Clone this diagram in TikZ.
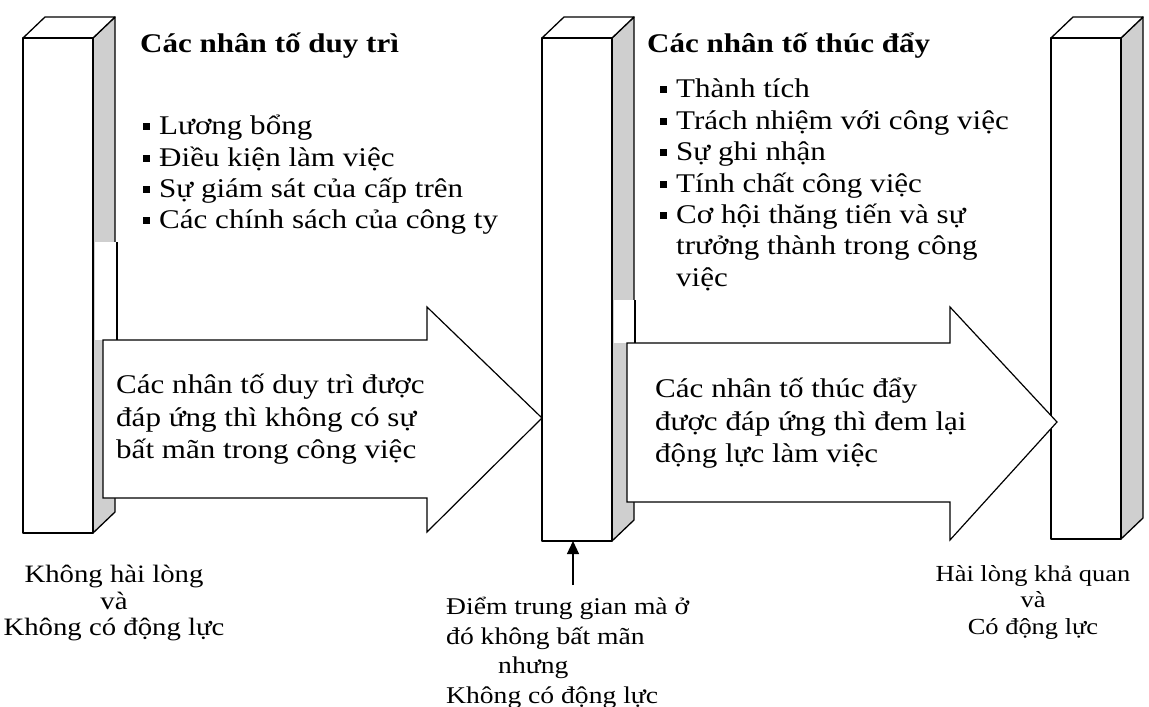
\documentclass[tikz,border=0pt]{standalone}
\usepackage{fontspec}
\setmainfont{Liberation Serif}[FakeStretch=1.15]
\usetikzlibrary{arrows.meta}

% kleines schwarzes Quadrat als Aufzaehlungszeichen
\newcommand{\sqb}{\makebox[16pt][l]{\rule[0.17em]{0.26em}{0.26em}}}

\begin{document}
\begin{tikzpicture}[
        x=1pt, y=-1pt,
        pillar/.style={draw, line width=1.3pt, line join=round},
        bigarrow/.style={draw, fill=white, line width=1.2pt, line join=miter},
        heading/.style={anchor=west, inner sep=0pt, font=\fontsize{27}{31}\selectfont\bfseries},
        factors/.style={anchor=north west, inner sep=0pt, align=left, font=\fontsize{27}{31.4}\selectfont},
        arrowtext/.style={anchor=north west, inner sep=0pt, align=left, font=\fontsize{27}{32.5}\selectfont},
        endlabel/.style={anchor=north, inner sep=0pt, align=center, font=\fontsize{25}{26.5}\selectfont}
    ]
    \useasboundingbox (0,0) rectangle (1149,707);

    % Drei Saeulen (Vorderseite, Deckel, graue Seite)
    \foreach \px/\pb/\nm in {23/533/lbot, 542/541/mbot, 1051/539/rbot} {
        \draw[pillar, fill=black!19] (\px+70,38) -- (\px+92,17) -- (\px+92,\pb-21) -- (\px+70,\pb) -- cycle;
        \draw[pillar, fill=white] (\px,38) -- (\px+22,17) -- (\px+92,17) -- (\px+70,38) -- cycle;
        \draw[pillar, fill=white] (\px,38) rectangle (\px+70,\pb);
        \coordinate (\nm) at (\px+31,\pb);
    }

    % weisse Flaechen ueber den Seiten
    \fill[white] (94.5,242) rectangle (119,340);
    \draw[line width=1.2pt] (117,242) -- (117,340);
    \fill[white] (613.5,300) rectangle (638,343);
    \draw[line width=1.2pt] (635,300) -- (635,343);

    % Blockpfeile
    \draw[bigarrow] (103,340) -- (427,340) -- (427,307) -- (542,418) -- (427,532) -- (427,498) -- (103,498) -- cycle;
    \draw[bigarrow] (627,343) -- (950,343) -- (950,307) -- (1057,422) -- (950,540) -- (950,502) -- (627,502) -- cycle;

    % Ueberschriften
    \node[heading] (hygiene) at (140,46) {Các nhân tố duy trì};
    \node[heading] (motiv) at (647,46) {Các nhân tố thúc đẩy};

    % Listen
    \node[factors] (hygienelist) at (143,115) {\sqb Lương bổng\\\sqb Điều kiện làm việc\\\sqb Sự giám sát của cấp trên\\\sqb Các chính sách của công ty};
    \node[factors] (motivlist) at (660,79) {\sqb Thành tích\\\sqb Trách nhiệm với công việc\\\sqb Sự ghi nhận\\\sqb Tính chất công việc\\\sqb Cơ hội thăng tiến và sự\\\hspace*{16pt}trưởng thành trong công\\\hspace*{16pt}việc};

    % Text in den Pfeilen
    \node[arrowtext] (hygienetext) at (116,374) {Các nhân tố duy trì được\\đáp ứng thì không có sự\\bất mãn trong công việc};
    \node[arrowtext] (motivtext) at (655,378) {Các nhân tố thúc đẩy\\được đáp ứng thì đem lại\\động lực làm việc};

    % Beschriftungen unten
    \node[endlabel] (leftlabel) at (114,565) {Không hài lòng\\và\\Không có động lực};
    \node[endlabel, font=\fontsize{23}{26.5}\selectfont] (rightlabel) at (1033,565) {Hài lòng khả quan\\và\\Có động lực};
    \node[endlabel, anchor=north west, align=left, font=\fontsize{24}{29.5}\selectfont] (midlabel) at (446,597) {Điểm trung gian mà ở\\đó không bất mãn\\\hspace*{52pt}nhưng\\Không có động lực};

    % Pfeil zur mittleren Saeule
    \draw[-{Triangle[length=13pt, width=12pt]}, line width=1.2pt] (midlabel.north -| mbot) ++(0,-12) -- (mbot);

\end{tikzpicture}
\end{document}
